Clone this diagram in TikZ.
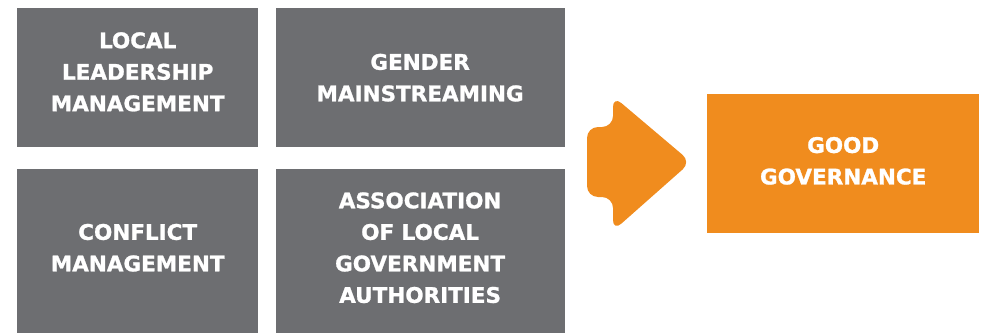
\documentclass[tikz,border=0pt]{standalone}
\usepackage{fontspec}
\setmainfont[BoldFeatures={FakeBold=1.2}]{DejaVu Sans}
\usetikzlibrary{positioning}

\definecolor{boxgray}{RGB}{109,110,113}
\definecolor{boxorange}{RGB}{240,140,30}

\begin{document}
\begin{tikzpicture}[x=1pt,y=1pt,node distance=17pt,
    box/.style={fill=boxgray,text=white,align=center,inner sep=0pt,
        font=\fontsize{21.5}{31.5}\selectfont\bfseries},
    goal/.style={box,fill=boxorange}]
    \useasboundingbox (0,0) rectangle (982,-332);

    \node[box,minimum width=241pt,minimum height=139pt,anchor=north west,text depth=12pt] (lead) at (17,-8)
        {LOCAL\\LEADERSHIP\\MANAGEMENT};
    \node[box,minimum width=289pt,minimum height=139pt] (gender) [right=of lead]
        {GENDER\\MAINSTREAMING};
    \node[box,minimum width=241pt,minimum height=164pt,text depth=6pt] (conflict) [below=21pt of lead]
        {CONFLICT\\MANAGEMENT};
    \node[box,minimum width=289pt,minimum height=164pt,text depth=6pt] (assoc) [right=of conflict]
        {ASSOCIATION\\OF LOCAL\\GOVERNMENT\\AUTHORITIES};

    \node[goal,minimum width=272pt,minimum height=139pt,anchor=north west,text depth=6pt] (good) at (707,-94)
        {GOOD\\GOVERNANCE};

    % big arrow
    \fill[boxorange,rounded corners=11pt] (587,-127) -- (613,-127) -- (613,-96)
        -- (691,-162) -- (613,-231) -- (613,-197) -- (587,-197) -- cycle;
\end{tikzpicture}
\end{document}
